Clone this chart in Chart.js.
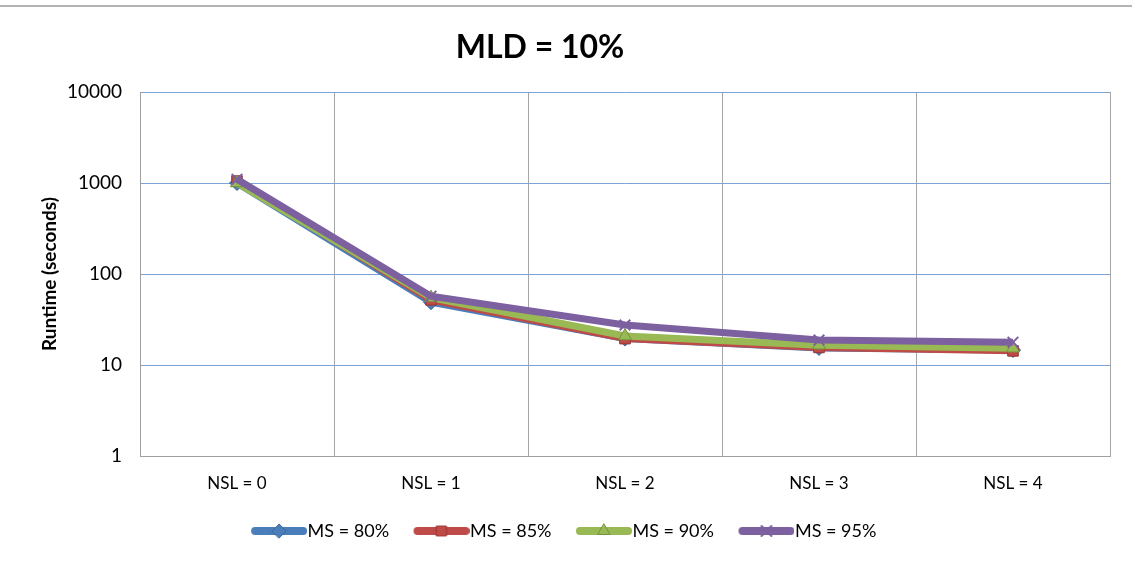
<!DOCTYPE html>
<html>
<head>
<meta charset="utf-8">
<script src="https://cdn.jsdelivr.net/npm/chart.js@4.4.0/dist/chart.umd.min.js"></script>
<style>
  html, body { margin: 0; padding: 0; background: #fff; }
  #wrap { position: relative; width: 1132px; height: 577px; }
</style>
</head>
<body>
<div id="wrap"><canvas id="runtimeChart"></canvas></div>
<script>
const categories = ["NSL = 0", "NSL = 1", "NSL = 2", "NSL = 3", "NSL = 4"];
const seriesNames = ["MS = 80%", "MS = 85%", "MS = 90%", "MS = 95%"];
const ms80 = [1000, 49, 19.5, 15.4, 14.6];
const ms85 = [1050, 52, 19.5, 15.6, 14.3];
const ms90 = [1000, 55, 20.8, 16.5, 15.3];
const ms95 = [1100, 57, 27.5, 18.8, 17.8];
const yTicks = [1, 10, 100, 1000, 10000];

const colors = ['#4A7EBB', '#BE4B48', '#98B954', '#7D60A0'];
const edges = ['#3A6496', '#9A3431', '#76913F', '#624A80'];
const markers = ['rectRot', 'rect', 'triangle', 'crossRot'];

const FONT = "Lato, 'Liberation Sans', sans-serif";

// legend swatch: thick line with the marker in the middle
function legendImage(i) {
  const c = document.createElement('canvas');
  c.width = 66; c.height = 18;
  const g = c.getContext('2d');
  g.strokeStyle = colors[i];
  g.lineWidth = 8;
  g.lineCap = 'round';
  g.beginPath(); g.moveTo(14, 9); g.lineTo(62, 9); g.stroke();
  g.fillStyle = colors[i];
  g.strokeStyle = markers[i] === 'crossRot' ? colors[i] : edges[i];
  g.lineWidth = markers[i] === 'crossRot' ? 2 : 1;
  Chart.helpers.drawPoint(g, { pointStyle: markers[i], radius: 7, rotation: 0, borderWidth: g.lineWidth }, 38, 9);
  return c;
}

// grey rule along the top; title and legend nudged like the original
const frame = {
  id: 'frame',
  afterLayout(chart) {
    const t = chart.titleBlock;
    if (t) t.right = t.left + 1080;
    const l = chart.legend;
    if (l) { l.left += 8; l.right += 8; }
  },
  beforeDraw(chart) {
    const ctx = chart.ctx;
    ctx.save();
    ctx.strokeStyle = '#b4b4b4';
    ctx.lineWidth = 2;
    ctx.beginPath(); ctx.moveTo(0, 6); ctx.lineTo(chart.width, 6); ctx.stroke();
    ctx.restore();
  }
};

const allSeries = [ms80, ms85, ms90, ms95];

new Chart(document.getElementById('runtimeChart').getContext('2d'), {
  type: 'line',
  data: {
    labels: categories,
    datasets: allSeries.map((vals, i) => ({
      label: seriesNames[i],
      data: vals,
      borderColor: colors[i],
      backgroundColor: colors[i],
      borderWidth: 7,
      pointStyle: markers[i],
      pointRadius: 7.5,
      pointBorderColor: markers[i] === 'crossRot' ? colors[i] : edges[i],
      pointBorderWidth: markers[i] === 'crossRot' ? 2 : 1,
      order: 4 - i,
      tension: 0
    }))
  },
  options: {
    responsive: true,
    maintainAspectRatio: false,
    animation: false,
    layout: { padding: { left: 0, right: 22, top: 0, bottom: 27 } },
    scales: {
      x: {
        offset: true,
        grid: { offset: true, color: '#a6a6a6', drawTicks: false },
        border: { color: '#a0a0a0' },
        ticks: { font: { family: FONT, size: 17 }, color: '#000', padding: 17 },
        afterFit(scale) { scale.height = 43; }
      },
      y: {
        type: 'logarithmic',
        min: 1,
        max: 10000,
        afterBuildTicks(scale) { scale.ticks = yTicks.map(v => ({ value: v })); },
        grid: { color: '#7DA3D4', drawTicks: false },
        border: { color: '#a0a0a0' },
        ticks: {
          font: { family: FONT, size: 19 },
          color: '#000',
          padding: 18,
          callback: v => String(v)
        },
        title: {
          display: true,
          text: 'Runtime (seconds)',
          font: { family: FONT, size: 19, weight: 'bold' },
          color: '#000',
          padding: { top: 38, bottom: 0 }
        },
        afterFit(scale) { scale.width = 140; }
      }
    },
    plugins: {
      title: {
        display: true,
        text: 'MLD = 10%',
        font: { family: FONT, size: 32, weight: 'bold' },
        color: '#000',
        padding: { top: 28, bottom: 25.6 }
      },
      legend: {
        position: 'bottom',
        labels: {
          usePointStyle: true,
          pointStyleWidth: 49,
          boxHeight: 18,
          padding: 23,
          font: { family: FONT, size: 18 },
          color: '#000',
          generateLabels: chart => seriesNames.map((name, i) => ({
            text: name,
            pointStyle: legendImage(i),
            fillStyle: colors[i],
            strokeStyle: colors[i],
            lineWidth: 0,
            datasetIndex: i,
            hidden: false
          }))
        }
      },
      tooltip: { enabled: false }
    }
  },
  plugins: [frame]
});
</script>
</body>
</html>
